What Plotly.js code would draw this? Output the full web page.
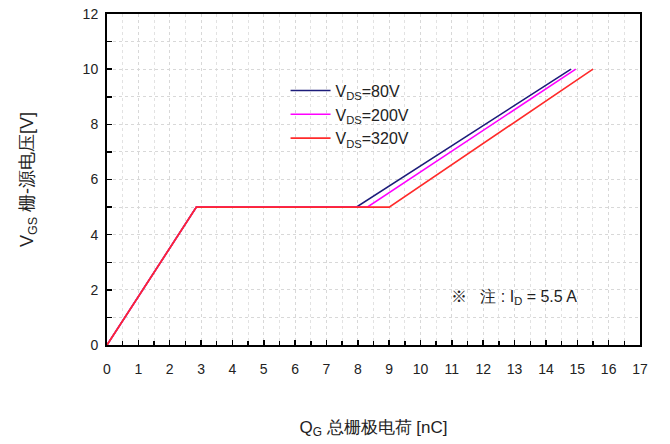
<!DOCTYPE html>
<html><head><meta charset="utf-8">
<script src="https://cdn.plot.ly/plotly-3.0.1.min.js"></script>
<style>html,body{margin:0;padding:0;background:#fff}</style>
</head><body><div id="chart" style="width:670px;height:444px"></div>
<script>
const seriesNames = ["V<sub>DS</sub>=80V", "V<sub>DS</sub>=200V", "V<sub>DS</sub>=320V"];
const qg80  = [0, 2.85, 7.95, 14.8];
const vgs80 = [0, 5, 5, 10];
const qg200  = [0, 2.85, 8.3, 14.95];
const vgs200 = [0, 5, 5, 10];
const qg320  = [0, 2.85, 9.0, 15.5];
const vgs320 = [0, 5, 5, 10];
const colors = ["#1c1c7a", "#ff00ff", "#ff2a2a"];

const traces = [
  {x: qg80, y: vgs80, name: seriesNames[0]},
  {x: qg200, y: vgs200, name: seriesNames[1]},
  {x: qg320, y: vgs320, name: seriesNames[2]}
].map((t, i) => Object.assign(t, {type: "scatter", mode: "lines", line: {color: colors[i], width: 1.6}}));

const font = {family: "Liberation Sans, Arial, sans-serif", size: 14, color: "#222"};
const layout = {
  width: 670, height: 444,
  margin: {l: 107, r: 30, t: 14, b: 99},
  paper_bgcolor: "#fff", plot_bgcolor: "#fff",
  font: font,
  showlegend: true,
  legend: {x: 0.335, y: 0.82, xanchor: "left", yanchor: "top", bgcolor: "rgba(255,255,255,0)",
           font: {family: font.family, size: 16, color: "#222"}, tracegroupgap: 0, itemwidth: 40,
           entrywidth: 0},
  xaxis: {
    range: [0, 17], dtick: 1, tick0: 0, showline: true, mirror: true, linecolor: "#000", linewidth: 2,
    ticks: "inside", ticklen: 5, tickcolor: "#000", tickwidth: 1.5, ticklabelstandoff: 10,
    showgrid: true, gridcolor: "#d8d8d8", griddash: "dot", gridwidth: 1, zeroline: false,
    minor: {dtick: 0.5, ticks: "inside", ticklen: 4, tickcolor: "#000", showgrid: true, gridcolor: "#e2e2e2", griddash: "dot"},
    tickfont: {size: 14, color: "#222"},
    title: {text: "Q<sub>G</sub> 总栅极电荷 [nC]", font: {size: 17, color: "#222"}, standoff: 45}
  },
  yaxis: {
    range: [0, 12], dtick: 2, tick0: 0, showline: true, mirror: true, linecolor: "#000", linewidth: 2,
    ticks: "inside", ticklen: 5, tickcolor: "#000", tickwidth: 1.5, ticklabelstandoff: 4,
    showgrid: true, gridcolor: "#d8d8d8", griddash: "dot", gridwidth: 1, zeroline: false,
    minor: {dtick: 1, ticks: "inside", ticklen: 5, tickcolor: "#000", showgrid: true, gridcolor: "#d8d8d8", griddash: "dot"},
    tickfont: {size: 14, color: "#222"},
    title: {text: "V<sub>GS</sub> 栅-源电压[V]", font: {size: 18, color: "#222"}, standoff: 44}
  },
  annotations: [{
    xref: "paper", yref: "paper", x: 0.885, y: 0.145, xanchor: "right", yanchor: "middle", showarrow: false,
    text: "※   注 : I<sub>D</sub> = 5.5 A", font: {size: 16, color: "#222"}
  }]
};
Plotly.newPlot("chart", traces, layout, {staticPlot: true});
</script></body></html>
